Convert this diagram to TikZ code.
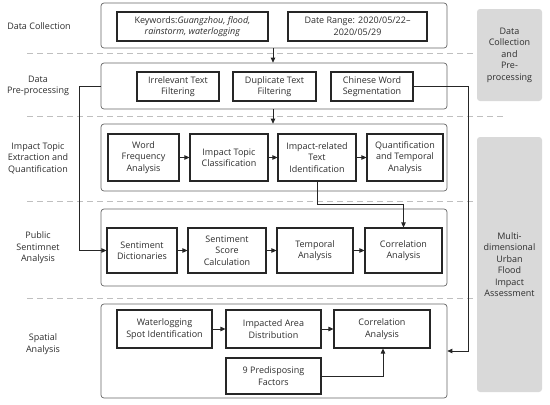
\documentclass[tikz,border=0pt]{standalone}
\usepackage{fontspec}
\setmainfont{Open Sans}
\usetikzlibrary{arrows.meta,positioning}
\definecolor{figG}{RGB}{217,217,217}
\definecolor{figT}{RGB}{45,45,45}

\begin{document}
\begin{tikzpicture}[x=1pt,y=-1pt,>={Triangle[length=5pt,width=4.5pt]},
  font=\fontsize{9}{11.5}\selectfont,
  stage/.style={draw=black!60,line width=0.7pt,rounded corners=3pt,inner sep=0pt,minimum width=346},
  procbox/.style={draw=black!85,line width=1.1pt,align=center,inner sep=1pt,text=figT},
  sidebox/.style={fill=figG,rounded corners=3pt,align=center,text=figT,inner sep=0pt,minimum width=65},
  rowlabel/.style={align=center,text=figT},
  sep/.style={draw=black!25,line width=0.9pt,dash pattern=on 6pt off 4pt},
  link/.style={->,line width=0.8pt,draw=black!85}]
\useasboundingbox (0,0) rectangle (550,405);
% dashed separators between the stages
\foreach \y/\xe in {53/477,116/503,201/477,298/477} \draw[sep] (27,\y)--(\xe,\y);
% side panels
\node[sidebox,minimum height=92] (side1) at (509.5,55) {Data\\Collection\\and\\Pre-\\processing};
\node[sidebox,minimum height=255] (side2) at (509.5,264.5) {Multi-\\dimensional\\Urban\\Flood\\Impact\\Assessment};
% stage labels
\node[rowlabel] (lab1) at (39,26) {Data Collection};
\node[rowlabel] (lab2) at (38,86) {Data\\Pre-processing};
\node[rowlabel] (lab3) at (38,158) {Impact Topic\\Extraction and\\Quantification};
\node[rowlabel] (lab4) at (38,248) {Public\\Sentimnet\\Analysis};
\node[rowlabel] (lab5) at (43,344) {Spatial\\Analysis};
% stage containers
\node[stage,minimum height=45] (collect) at (274,25.5) {};
\node[stage,minimum height=46] (prep) at (274,86) {};
\node[stage,minimum height=67] (topic) at (274,157.5) {};
\node[stage,minimum height=77] (senti) at (274,247.5) {};
\node[stage,minimum height=94] (spatial) at (274,351) {};
% data collection
\node[procbox,minimum width=151,minimum height=29] (kw) at (192.5,26.5) {Keywords:\textit{Guangzhou, flood,}\\\textit{rainstorm, waterlogging}};
\node[procbox,minimum width=139,minimum height=29] (date) at (357.5,26.5) {Date Range: 2020/05/22--\\2020/05/29};
% pre-processing
\node[procbox,minimum width=82,minimum height=29] (irr) at (178,86.5) {Irrelevant Text\\Filtering};
\node[procbox,minimum width=83,minimum height=29] (dup) at (274.5,86.5) {Duplicate Text\\Filtering};
\node[procbox,minimum width=82,minimum height=29] (seg) at (372,86.5) {Chinese Word\\Segmentation};
% impact topics
\node[procbox,minimum width=71,minimum height=47] (wfa) at (143.5,157.5) {Word\\Frequency\\Analysis};
\node[procbox,minimum width=78,minimum height=47] (itc) at (229,157.5) {Impact Topic\\Classification};
\node[procbox,minimum width=78,minimum height=47] (iti) at (317,157.5) {Impact-related\\Text\\Identification};
\node[procbox,minimum width=76,minimum height=47] (qta) at (405,157.5) {Quantification\\and Temporal\\Analysis};
% public sentiment
\node[procbox,minimum width=70,minimum height=45] (dict) at (142,250.5) {Sentiment\\Dictionaries};
\node[procbox,minimum width=78,minimum height=45] (score) at (227,250.5) {Sentiment\\Score\\Calculation};
\node[procbox,minimum width=76,minimum height=45] (tmp) at (315,250.5) {Temporal\\Analysis};
\node[procbox,minimum width=77,minimum height=45] (corr1) at (403.5,250.5) {Correlation\\Analysis};
% spatial
\node[procbox,minimum width=95,minimum height=38] (spot) at (164.5,329) {Waterlogging\\Spot Identification};
\node[procbox,minimum width=95,minimum height=38] (area) at (273.5,329) {Impacted Area\\Distribution};
\node[procbox,minimum width=96,minimum height=38] (corr2) at (382,329) {Correlation\\Analysis};
\node[procbox,minimum width=95,minimum height=36] (fact) at (273.5,376) {9 Predisposing\\Factors};
% connectors
\draw[link] (collect.south -| 273,0)--(prep.north -| 273,0);
\draw[link] (prep.south -| 273,0)--(topic.north -| 273,0);
\draw[link] (wfa)--(itc);
\draw[link] (itc)--(iti);
\draw[link] (iti)--(qta);
\draw[link] (dict)--(score);
\draw[link] (score)--(tmp);
\draw[link] (tmp)--(corr1);
\draw[link] (spot)--(area);
\draw[link] (area)--(corr2);
\draw[link] (iti.south)--++(0,23)-|(corr1.north);
\draw[link] (fact.east)-|(corr2.south -| 383,0);
\draw[link] (prep.west)--++(-21,0)|-(dict.west);
\draw[link] (seg.east)--(468,86.5)|-(spatial.east);
\end{tikzpicture}
\end{document}
